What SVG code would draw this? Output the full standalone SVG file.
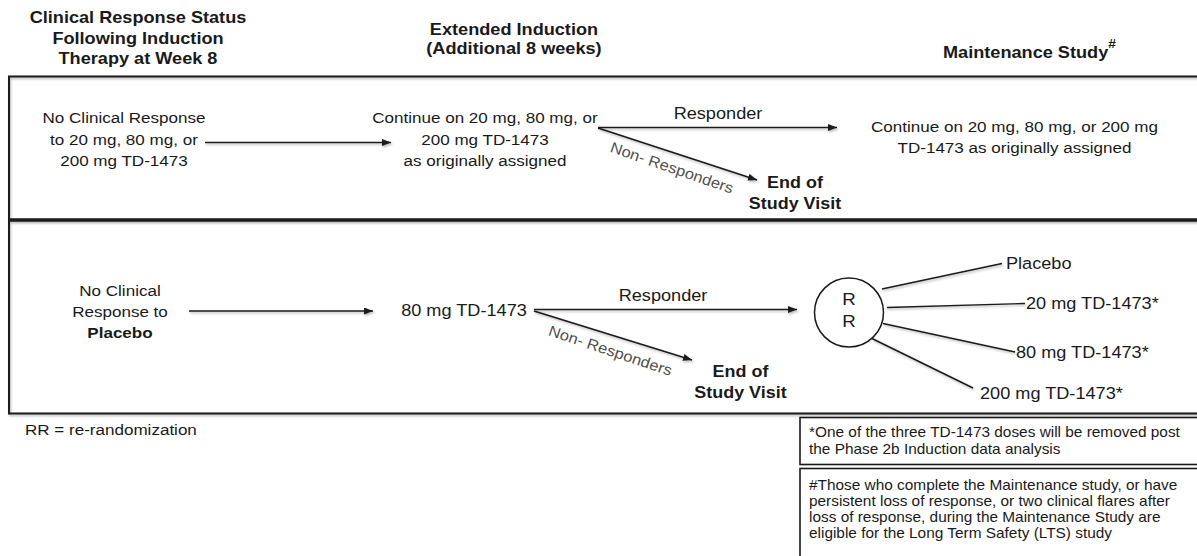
<svg xmlns="http://www.w3.org/2000/svg" width="1197" height="556" viewBox="0 0 1197 556">
<defs>
<style>
text{font-family:"Liberation Sans",Arial,sans-serif;fill:#1a1a1a;}
.c{text-anchor:middle;transform-box:fill-box;transform-origin:50% 50%;transform:scaleX(1.1);}
.l{text-anchor:start;transform-box:fill-box;transform-origin:0% 50%;transform:scaleX(1.1);}
.h{font-size:16.5px;font-weight:bold;}
.b{font-size:15.5px;}
.bb{font-size:15.5px;font-weight:bold;}
.m{font-size:16.5px;}
.e{font-size:16.3px;font-weight:bold;}
.nr{font-size:15px;fill:#505050;}
.f{font-size:14px;}
.rr{font-size:17px;}
.ln{stroke:#1a1a1a;stroke-width:1.6;fill:none;}
.br{stroke:#1a1a1a;stroke-width:1.4;fill:none;}
.fr{stroke:#1a1a1a;fill:none;}
</style>
<marker id="ah" markerUnits="userSpaceOnUse" markerWidth="10" markerHeight="8" refX="9" refY="3.5" orient="auto"><path d="M0,0 L9,3.5 L0,7 z" fill="#1a1a1a"/></marker>
<filter id="sh" filterUnits="userSpaceOnUse" x="0" y="0" width="1197" height="556"><feDropShadow dx="1" dy="1.5" stdDeviation="0.8" flood-color="#000" flood-opacity="0.3"/></filter>
</defs>
<rect width="1197" height="556" fill="#fff"/>

<g id="frame" filter="url(#sh)">
<path class="fr" stroke-width="2" d="M1200,76.5 H9 V413.5 H1200"/>
<line class="fr" x1="9" y1="220" x2="1200" y2="220" stroke-width="3.5"/>
</g>

<g id="headers">
<text class="h c" x="138" y="23">Clinical Response Status</text>
<text class="h c" x="138" y="44">Following Induction</text>
<text class="h c" x="138" y="64.5">Therapy at Week 8</text>
<text class="h c" x="514" y="35.5">Extended Induction</text>
<text class="h c" x="514" y="54.5">(Additional 8 weeks)</text>
<text class="h l" x="943" y="58">Maintenance Study<tspan font-size="12.5" dy="-10">#</tspan></text>
</g>

<g id="n-noresp-active">
<text class="b c" x="124" y="123">No Clinical Response</text>
<text class="b c" x="124" y="145">to 20 mg, 80 mg, or</text>
<text class="b c" x="124" y="166">200 mg TD-1473</text>
</g>
<g id="n-continue-ext">
<text class="b c" x="485" y="123">Continue on 20 mg, 80 mg, or</text>
<text class="b c" x="485" y="145">200 mg TD-1473</text>
<text class="b c" x="485" y="166">as originally assigned</text>
</g>
<g id="n-end1">
<text class="e c" x="795" y="188">End of</text>
<text class="e c" x="795" y="209">Study Visit</text>
</g>
<g id="n-continue-maint">
<text class="b c" x="1014.5" y="132.5">Continue on 20 mg, 80 mg, or 200 mg</text>
<text class="b c" x="1014.5" y="153.5">TD-1473 as originally assigned</text>
</g>

<g id="n-noresp-placebo">
<text class="b c" x="120" y="296">No Clinical</text>
<text class="b c" x="120" y="317">Response to</text>
<text class="bb c" x="120" y="338">Placebo</text>
</g>
<g id="n-80mg">
<text class="m c" x="464" y="316">80 mg TD-1473</text>
</g>
<g id="n-end2">
<text class="e c" x="740.5" y="377">End of</text>
<text class="e c" x="740.5" y="398.5">Study Visit</text>
</g>
<g id="n-rr">
<circle cx="849" cy="312.5" r="34.5" fill="#fff" stroke="#1a1a1a" stroke-width="1.5"/>
<text class="rr c" x="849" y="305.5">R</text>
<text class="rr c" x="849" y="327.5">R</text>
</g>
<g id="n-arm-placebo"><text class="m l" x="1006" y="269">Placebo</text></g>
<g id="n-arm-20"><text class="m l" x="1026" y="309">20 mg TD-1473*</text></g>
<g id="n-arm-80"><text class="m l" x="1016" y="358">80 mg TD-1473*</text></g>
<g id="n-arm-200"><text class="m l" x="980" y="399">200 mg TD-1473*</text></g>

<g id="connectors">
<g filter="url(#sh)">
<line class="ln" x1="205" y1="142.5" x2="391" y2="142.5" marker-end="url(#ah)"/>
<line class="ln" x1="598" y1="127.5" x2="837" y2="127.5" marker-end="url(#ah)"/>
<line class="ln" x1="598" y1="128" x2="757" y2="180" marker-end="url(#ah)"/>
<line class="ln" x1="189" y1="311" x2="373" y2="311" marker-end="url(#ah)"/>
<line class="ln" x1="534" y1="309.5" x2="797" y2="309.5" marker-end="url(#ah)"/>
<line class="ln" x1="534" y1="311" x2="692" y2="360" marker-end="url(#ah)"/>
<line class="br" x1="882" y1="289" x2="1002" y2="263.5"/>
<line class="br" x1="887" y1="307.5" x2="1025" y2="303.5"/>
<line class="br" x1="883" y1="323.5" x2="1015" y2="352"/>
<line class="br" x1="872" y1="338.5" x2="973" y2="388"/>
</g>
<text class="m c" x="718" y="119.5">Responder</text>
<text class="m c" x="663" y="301">Responder</text>
<g transform="translate(609.2,151.6) rotate(19)"><text class="nr l" x="0" y="0">Non- Responders</text></g>
<g transform="translate(547.5,335) rotate(18.5)"><text class="nr l" x="0" y="0">Non- Responders</text></g>
</g>

<g id="legend">
<text class="b l" x="25" y="435">RR = re-randomization</text>
</g>
<g id="footnote-1">
<rect x="800" y="417.5" width="400" height="47" fill="none" stroke="#1a1a1a" stroke-width="1.6"/>
<text class="f l" x="809" y="437.5">*One of the three TD-1473 doses will be removed post</text>
<text class="f l" x="809" y="454.5">the Phase 2b Induction data analysis</text>
</g>
<g id="footnote-2">
<rect x="800" y="468.5" width="400" height="100" fill="none" stroke="#1a1a1a" stroke-width="1.6"/>
<text class="f l" x="809" y="490">#Those who complete the Maintenance study, or have</text>
<text class="f l" x="809" y="506">persistent loss of response, or two clinical flares after</text>
<text class="f l" x="809" y="522">loss of response, during the Maintenance Study are</text>
<text class="f l" x="809" y="538">eligible for the Long Term Safety (LTS) study</text>
</g>
</svg>
